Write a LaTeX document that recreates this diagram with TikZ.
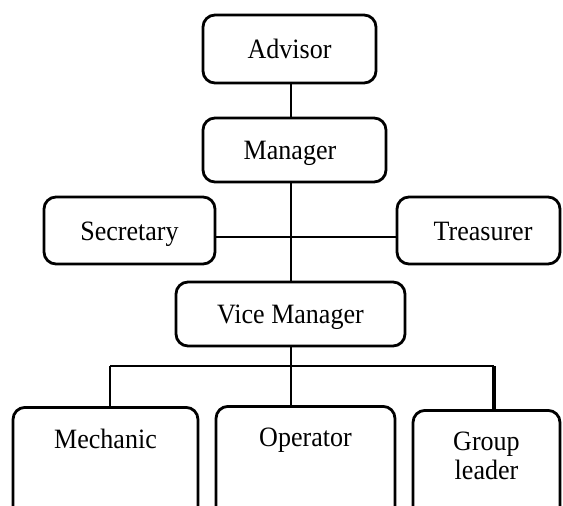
\documentclass[tikz,border=0pt]{standalone}
\usepackage{fontspec}
\setmainfont[FakeStretch=0.93]{Liberation Serif}
\begin{document}
\begin{tikzpicture}[x=1pt,y=1pt,
  orgbox/.style={draw, line width=2.8pt, rounded corners=12pt, inner sep=0pt,
    font=\fontsize{28}{29}\selectfont, text height=19pt, text depth=0pt, align=center},
  lowbox/.style={draw, line width=2.8pt, rounded corners=12pt, inner xsep=0pt, inner ysep=22pt,
    anchor=north, font=\fontsize{28}{29}\selectfont},
  link/.style={line width=2.8pt}]
\useasboundingbox (0,0) rectangle (563,-506);
\clip (0,0) rectangle (563,-506);
\node[orgbox, minimum width=173pt, minimum height=68pt] (adv) at (289.5,-49) {Advisor};
\node[orgbox, minimum width=183pt, minimum height=64pt] (man) at (294.5,-150) {Manager\hspace*{9pt}};
\node[orgbox, minimum width=171pt, minimum height=67pt] (sec) at (129.5,-230.5) {Secretary};
\node[orgbox, minimum width=163pt, minimum height=67pt] (tre) at (478.5,-230.5) {\hspace*{9pt}Treasurer};
\node[orgbox, minimum width=229pt, minimum height=64pt] (vm) at (290.5,-314) {Vice Manager};
\node[lowbox, minimum width=185pt] (mech) at (105.5,-406) {\parbox[t][120pt][t]{180pt}{\centering Mechanic}};
\node[lowbox, minimum width=179pt] (op) at (305.5,-405) {\parbox[t][120pt][t]{175pt}{\centering Operator}};
\node[lowbox, minimum width=147pt] (gl) at (486.5,-409) {\parbox[t][120pt][t]{140pt}{\centering Group\\ leader}};
\coordinate (spine) at (291,0);
\coordinate (midrow) at (0,-237);
\coordinate (bus) at (0,-366);
\coordinate (busL) at (110,-366);
\coordinate (busR) at (494,-366);
\draw[link] (adv.south -| spine) -- (man.north -| spine);
\draw[link] (man.south -| spine) -- (vm.north -| spine);
\draw[link] (sec.east |- midrow) -- (tre.west |- midrow);
\draw[link] (vm.south -| spine) -- (spine |- bus);
\draw[link] (busL) -- (busR);
\draw[link] (busL) -- (mech.north -| busL);
\draw[link] (spine |- bus) -- (op.north -| spine);
\draw[line width=3.4pt] (busR) -- (gl.north -| busR);
\end{tikzpicture}
\end{document}
